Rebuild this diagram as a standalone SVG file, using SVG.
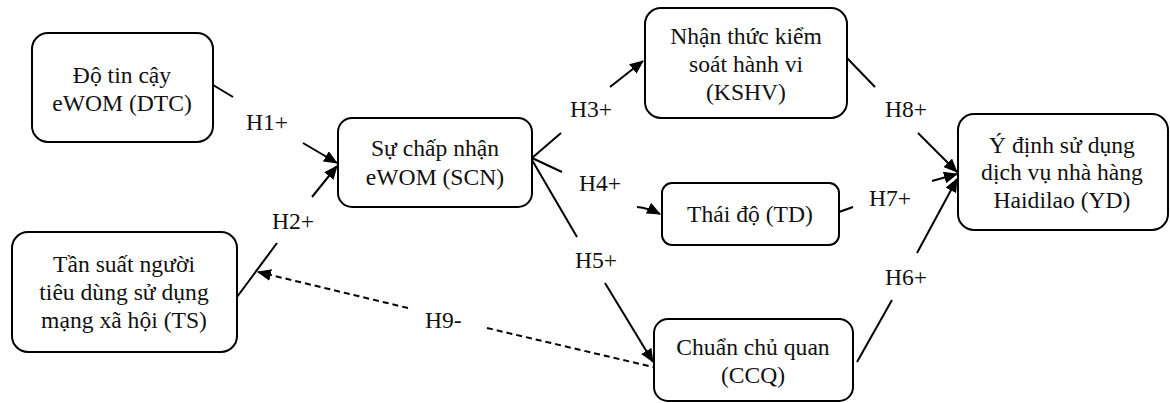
<svg xmlns="http://www.w3.org/2000/svg" width="1170" height="403" viewBox="0 0 1170 403">
<style>
.box{fill:#fff;stroke:#000;stroke-width:2}
text{font-family:'Liberation Serif','DejaVu Serif',serif;font-size:23.6px;fill:#111}
.t{text-anchor:middle}
.c{stroke:#000;stroke-width:2;fill:none}
.d{stroke:#000;stroke-width:2;fill:none;stroke-dasharray:6,4}
</style>
<defs>
<marker id="ah" markerUnits="userSpaceOnUse" markerWidth="14" markerHeight="12" refX="13" refY="6" orient="auto">
<path d="M0,0 L14,6 L0,12 Z" fill="#000"/>
</marker>
</defs>
<rect width="1170" height="403" fill="#fff"/>
<g id="connectors">
<line class="c" x1="213" y1="85" x2="233" y2="97"/>
<line class="c" x1="303" y1="143" x2="337" y2="163" marker-end="url(#ah)"/>
<line class="c" x1="237" y1="297" x2="277" y2="243"/>
<line class="c" x1="312" y1="197" x2="337" y2="166" marker-end="url(#ah)"/>
<line class="c" x1="532" y1="158" x2="561" y2="133"/>
<line class="c" x1="610" y1="87" x2="643" y2="61" marker-end="url(#ah)"/>
<line class="c" x1="532" y1="158" x2="562" y2="172"/>
<path class="c" d="M637,207 Q648,208 660,214" marker-end="url(#ah)"/>
<line class="c" x1="532" y1="160" x2="577" y2="237"/>
<line class="c" x1="605" y1="283" x2="653" y2="362" marker-end="url(#ah)"/>
<line class="c" x1="847" y1="58" x2="875" y2="87"/>
<line class="c" x1="918" y1="133" x2="957" y2="172" marker-end="url(#ah)"/>
<line class="c" x1="839" y1="212" x2="853" y2="207"/>
<line class="c" x1="932" y1="181" x2="957" y2="174" marker-end="url(#ah)"/>
<line class="c" x1="857" y1="362" x2="892" y2="300"/>
<line class="c" x1="917" y1="253" x2="957" y2="179" marker-end="url(#ah)"/>
<line class="d" x1="408" y1="308" x2="258" y2="272" marker-end="url(#ah)"/>
<line class="d" x1="487" y1="328" x2="653" y2="367"/>
<text x="246" y="130">H1+</text>
<text x="272" y="229">H2+</text>
<text x="570" y="117">H3+</text>
<text x="579" y="191">H4+</text>
<text x="575" y="268">H5+</text>
<text x="885" y="285">H6+</text>
<text x="869" y="206">H7+</text>
<text x="885" y="117">H8+</text>
<text x="425" y="328">H9-</text>
</g>
<g id="DTC">
<rect class="box" x="32" y="33" width="181" height="109" rx="16"/>
<text class="t" x="122" y="83">Độ tin cậy</text>
<text class="t" x="122" y="111">eWOM (DTC)</text>
</g>
<g id="TS">
<rect class="box" x="12" y="232" width="225" height="120" rx="16"/>
<text class="t" x="124" y="272">Tần suất người</text>
<text class="t" x="124" y="300">tiêu dùng sử dụng</text>
<text class="t" x="124" y="328">mạng xã hội (TS)</text>
</g>
<g id="SCN">
<rect class="box" x="338" y="118" width="194" height="89" rx="14"/>
<text class="t" x="435" y="156">Sự chấp nhận</text>
<text class="t" x="435" y="185">eWOM (SCN)</text>
</g>
<g id="KSHV">
<rect class="box" x="645" y="8" width="202" height="110" rx="16"/>
<text class="t" x="746" y="44">Nhận thức kiểm</text>
<text class="t" x="746" y="72">soát hành vi</text>
<text class="t" x="746" y="100">(KSHV)</text>
</g>
<g id="TD">
<rect class="box" x="662" y="183" width="177" height="62" rx="10"/>
<text class="t" x="750" y="222">Thái độ (TD)</text>
</g>
<g id="CCQ">
<rect class="box" x="654" y="319" width="199" height="82" rx="14"/>
<text class="t" x="753" y="355">Chuẩn chủ quan</text>
<text class="t" x="753" y="383">(CCQ)</text>
</g>
<g id="YD">
<rect class="box" x="958" y="114" width="210" height="116" rx="16"/>
<text class="t" x="1062" y="153">Ý định sử dụng</text>
<text class="t" x="1062" y="180">dịch vụ nhà hàng</text>
<text class="t" x="1062" y="208">Haidilao (YD)</text>
</g>
</svg>
